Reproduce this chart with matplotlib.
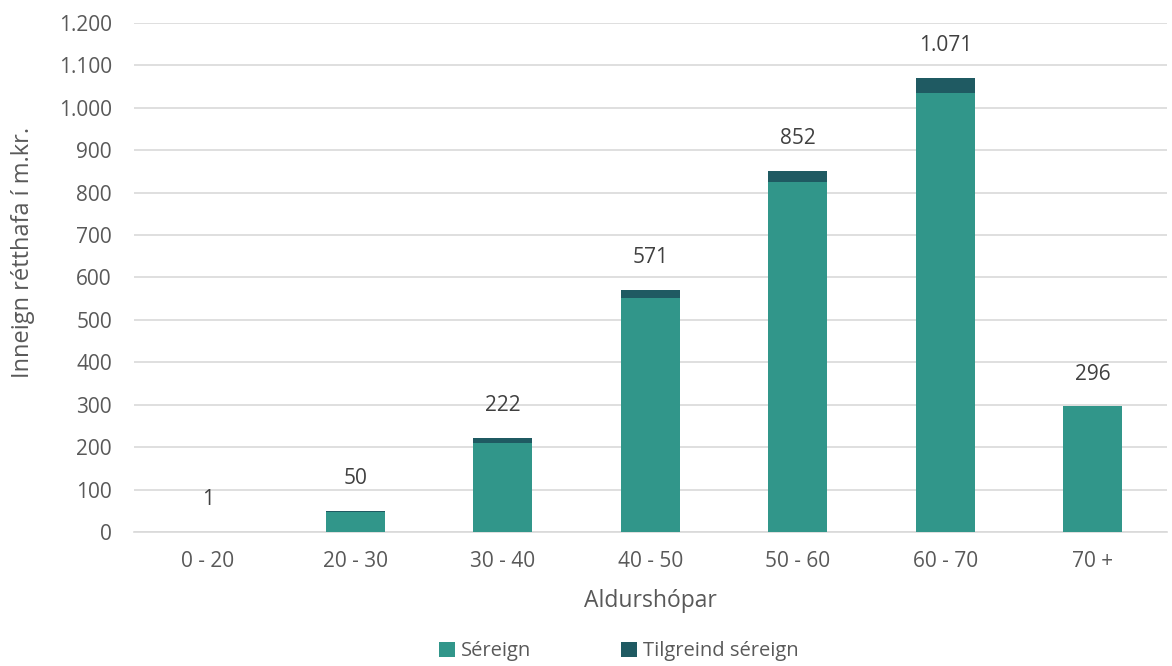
import matplotlib

matplotlib.use("Agg")
import matplotlib.pyplot as plt
from matplotlib.ticker import FuncFormatter

age_groups = ["0 - 20", "20 - 30", "30 - 40", "40 - 50", "50 - 60", "60 - 70", "70 +"]
sereign = [1, 46, 210, 552, 824, 1036, 296]
tilgreind = [0, 4, 12, 19, 28, 35, 0]
totals = [1, 50, 222, 571, 852, 1071, 296]

GREEN = "#31968a"
DARK = "#1f5a62"
TEXT = "#595959"

plt.rcParams["font.family"] = ["Open Sans", "DejaVu Sans"]


def thousands(v):
    return f"{int(v):,}".replace(",", ".")


fig = plt.figure(figsize=(11.72, 6.66), dpi=100)
ax = fig.add_axes([0.1145, 0.2012, 0.881, 0.7643])

x = list(range(len(age_groups)))
ax.bar(x, sereign, width=0.4, color=GREEN, label="Séreign", zorder=3)
ax.bar(x, tilgreind, width=0.4, bottom=sereign, color=DARK,
       label="Tilgreind séreign", zorder=3)

for xi, total in zip(x, totals):
    ax.annotate(thousands(total), (xi, total), xytext=(0, 23),
                textcoords="offset points", ha="center", va="center",
                fontsize=15, color="#404040")

ax.set_xlim(-0.5, len(age_groups) - 0.5)
ax.set_ylim(0, 1200)
ax.set_yticks(range(0, 1201, 100))
ax.yaxis.set_major_formatter(FuncFormatter(lambda v, _: thousands(v)))
ax.set_xticks(x)
ax.set_xticklabels(age_groups)
ax.tick_params(length=0, labelsize=15, labelcolor=TEXT)
ax.tick_params(axis="x", pad=14)
ax.tick_params(axis="y", pad=16)

ax.grid(axis="y", color="#d9d9d9", linewidth=1.2, zorder=0)
for side in ("top", "right", "left"):
    ax.spines[side].set_visible(False)
ax.spines["bottom"].set_color("#d9d9d9")
ax.spines["bottom"].set_linewidth(1.2)

ax.set_xlabel("Aldurshópar", fontsize=16.5, color=TEXT, labelpad=12)
ax.set_ylabel("Inneign rétthafa í m.kr.", fontsize=17, color=TEXT, labelpad=12)
ax.yaxis.set_label_coords(-0.096, 0.55)

fig.legend(loc="lower center", bbox_to_anchor=(0.528, -0.02), ncol=2, frameon=False,
           fontsize=14.5, labelcolor=TEXT, handlelength=0.75, handleheight=0.75,
           handletextpad=0.3, columnspacing=4.5)

fig.savefig("out.png", dpi=100)
plt.close(fig)
